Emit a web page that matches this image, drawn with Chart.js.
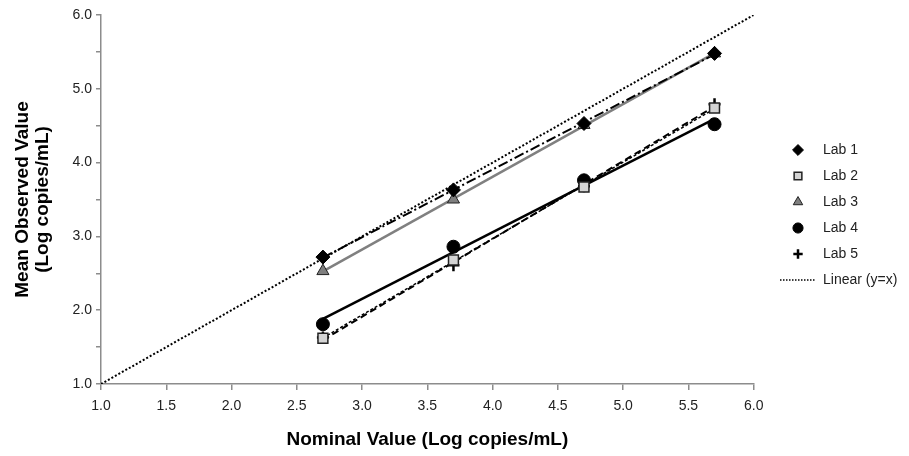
<!DOCTYPE html>
<html>
<head>
<meta charset="utf-8">
<script src="https://cdn.jsdelivr.net/npm/chart.js@4/dist/chart.umd.min.js"></script>
<style>
  html, body { margin: 0; padding: 0; background: #fff; }
  #wrap { width: 909px; height: 456px; }
</style>
</head>
<body>
<div id="wrap"><canvas id="chart" width="909" height="456"></canvas></div>
<script>
// values
const nominal = [2.7, 3.7, 4.7, 5.7];
const lab1 = [2.72, 3.63, 4.53, 5.48];
const lab2 = [1.62, 2.68, 3.67, 4.74];
const lab3 = [2.53, 3.50, 4.51, 5.48];
const lab4 = [1.81, 2.86, 3.76, 4.52];
const lab5 = [1.63, 2.61, 3.68, 4.79];
const identityLine = [1.0, 6.0];
const labNames = ['Lab 1', 'Lab 2', 'Lab 3', 'Lab 4', 'Lab 5'];

const toPoints = (xs, ys) => xs.map((x, i) => ({ x: x, y: ys[i] }));

// least squares trendline over the data range (like the spreadsheet trendline)
function trend(xs, ys) {
    const n = xs.length;
    const mx = xs.reduce((a, b) => a + b, 0) / n;
    const my = ys.reduce((a, b) => a + b, 0) / n;
    let sxy = 0, sxx = 0;
    xs.forEach((x, i) => { sxy += (x - mx) * (ys[i] - my); sxx += (x - mx) * (x - mx); });
    const b = sxy / sxx;
    const a = my - b * mx;
    const lo = Math.min(...xs), hi = Math.max(...xs);
    return [{ x: lo, y: a + b * lo }, { x: hi, y: a + b * hi }];
}

const markers = [
    { pointStyle: 'rectRot', radius: 7, fill: '#000', stroke: '#000', width: 1 },
    { pointStyle: 'rect', radius: 7, fill: '#d4d4d4', stroke: '#222', width: 1.5 },
    { pointStyle: 'triangle', radius: 7, fill: '#7f7f7f', stroke: '#222', width: 1 },
    { pointStyle: 'circle', radius: 6.5, fill: '#000', stroke: '#000', width: 1 },
    { pointStyle: 'cross', radius: 6, fill: '#000', stroke: '#000', width: 2.5 }
];
const trendStyles = [
    { color: '#000', width: 2, dash: [10, 3, 2, 3] },
    { color: '#000', width: 1.5, dash: [3, 2] },
    { color: '#808080', width: 2.5, dash: [] },
    { color: '#000', width: 2.5, dash: [] },
    { color: '#000', width: 2, dash: [7, 4] }
];
const labValues = [lab1, lab2, lab3, lab4, lab5];

const datasets = [];
labValues.forEach((ys, i) => {
    const m = markers[i];
    datasets.push({
        label: labNames[i],
        data: toPoints(nominal, ys),
        showLine: false,
        pointStyle: m.pointStyle,
        pointRadius: m.radius,
        pointHoverRadius: m.radius,
        pointBackgroundColor: m.fill,
        pointBorderColor: m.stroke,
        pointBorderWidth: m.width,
        backgroundColor: m.fill,
        borderColor: m.stroke,
        order: 0
    });
});
datasets.push({
    label: 'Linear (y=x)',
    data: toPoints(identityLine, identityLine),
    showLine: true,
    borderColor: '#000',
    borderWidth: 2,
    borderDash: [2, 2],
    pointRadius: 0,
    order: 1
});
labValues.forEach((ys, i) => {
    const s = trendStyles[i];
    datasets.push({
        label: labNames[i] + ' trend',
        isTrend: true,
        data: trend(nominal, ys),
        showLine: true,
        borderColor: s.color,
        borderWidth: s.width,
        borderDash: s.dash,
        pointRadius: 0,
        order: 2
    });
});

// small legend icons, marker centred in a 36px wide box
function makeIcon(i) {
    const c = document.createElement('canvas');
    c.width = 36; c.height = 14;
    const ctx = c.getContext('2d');
    if (i < markers.length) {
        const m = markers[i];
        ctx.fillStyle = m.fill;
        ctx.strokeStyle = m.stroke;
        ctx.lineWidth = m.width;
        Chart.helpers.drawPoint(ctx, { pointStyle: m.pointStyle, radius: m.radius * 0.78, borderWidth: m.width, rotation: 0 }, 18, 7);
    } else {
        ctx.strokeStyle = '#000';
        ctx.lineWidth = 1.5;
        ctx.setLineDash([1.5, 1.5]);
        ctx.beginPath();
        ctx.moveTo(0, 7);
        ctx.lineTo(36, 7);
        ctx.stroke();
    }
    return c;
}

const legendPlace = {
    id: 'legendPlace',
    beforeDraw(chart) {
        chart.legend.left = 768;
        chart.legend.right = 909;
        chart.legend.top = 131;
    }
};

Chart.defaults.font.family = '"Liberation Sans", Arial, sans-serif';

new Chart(document.getElementById('chart'), {
    type: 'scatter',
    data: { datasets: datasets },
    plugins: [legendPlace],
    options: {
        responsive: false,
        animation: false,
        layout: { padding: { left: 0, top: 15, right: 16, bottom: 0 } },
        plugins: {
            tooltip: { enabled: false },
            legend: {
                position: 'right',
                align: 'start',
                labels: {
                    usePointStyle: true,
                    pointStyleWidth: 36,
                    padding: 12,
                    color: '#222',
                    font: { size: 14 },
                    generateLabels(chart) {
                        return Chart.defaults.plugins.legend.labels.generateLabels(chart)
                            .filter(item => !chart.data.datasets[item.datasetIndex].isTrend)
                            .map(item => Object.assign(item, { pointStyle: makeIcon(item.datasetIndex) }));
                    }
                }
            }
        },
        scales: {
            x: {
                type: 'linear',
                min: 1,
                max: 6,
                afterFit(scale) { scale.height = 72; },
                ticks: {
                    stepSize: 0.5,
                    padding: 8,
                    color: '#222',
                    font: { size: 14 },
                    maxRotation: 0,
                    callback: v => v.toFixed(1)
                },
                grid: { drawOnChartArea: false, tickLength: 6, color: '#8c8c8c', lineWidth: 1.5 },
                border: { color: '#8c8c8c', width: 1.5 },
                title: {
                    display: true,
                    text: 'Nominal Value (Log copies/mL)',
                    color: '#000',
                    font: { size: 19, weight: 'bold', lineHeight: 1.05 },
                    padding: { top: 4, bottom: 6 }
                }
            },
            y: {
                type: 'linear',
                min: 1,
                max: 6,
                afterFit(scale) { scale.width = 101; },
                ticks: {
                    stepSize: 0.5,
                    padding: 4,
                    color: '#222',
                    font: { size: 14 },
                    callback: v => (Math.abs(v % 1) < 1e-9 ? v.toFixed(1) : '')
                },
                grid: { drawOnChartArea: false, tickLength: 5, color: '#8c8c8c', lineWidth: 1.5 },
                border: { color: '#8c8c8c', width: 1.5 },
                title: {
                    display: true,
                    text: ['Mean Observed Value', '(Log copies/mL)'],
                    color: '#000',
                    font: { size: 19, weight: 'bold', lineHeight: 1.05 },
                    padding: { top: 13, bottom: 0 }
                }
            }
        }
    }
});
</script>
</body>
</html>
